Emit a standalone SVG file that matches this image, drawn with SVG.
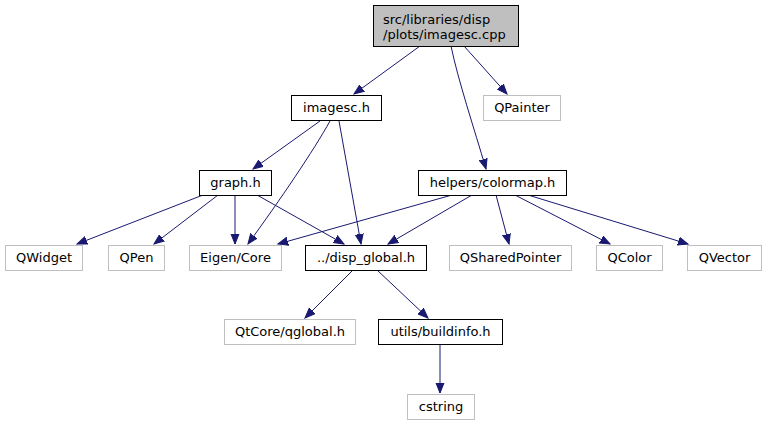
<svg xmlns="http://www.w3.org/2000/svg" width="767" height="425" viewBox="0 0 767 425">
<style>
  .n rect { fill: #ffffff; stroke: #000000; stroke-width: 1; }
  .g rect { fill: #ffffff; stroke: #bfbfbf; stroke-width: 1; }
  .root rect { fill: #bfbfbf; stroke: #000000; stroke-width: 1; }
  text { font-family: "DejaVu Sans", "Liberation Sans", sans-serif; font-size: 13px; fill: #000000; text-anchor: middle; }
  .e path { fill: none; stroke: #191970; stroke-width: 1; }
</style>
<defs>
  <marker id="ah" markerUnits="userSpaceOnUse" markerWidth="12" markerHeight="10" refX="10" refY="4.5" orient="auto">
    <path d="M0,0.5 L10,4.5 L0,8.5 z" fill="#191970" stroke="#191970" stroke-width="1"/>
  </marker>
</defs>
<rect width="767" height="425" fill="#ffffff"/>
<g class="e" id="edges">
  <path d="M420,46 L354,94" marker-end="url(#ah)"/>
  <path d="M464,46 L507,94" marker-end="url(#ah)"/>
  <path d="M451,46 C458,80 474,128 486,169" marker-end="url(#ah)"/>
  <path d="M320,121 L253,169" marker-end="url(#ah)"/>
  <path d="M330,121 C314,150 280,200 248,244" marker-end="url(#ah)"/>
  <path d="M339,121 L361,244" marker-end="url(#ah)"/>
  <path d="M203,195 L77,244" marker-end="url(#ah)"/>
  <path d="M218,195 L154,244" marker-end="url(#ah)"/>
  <path d="M235,195 L235,244" marker-end="url(#ah)"/>
  <path d="M257,195 L344,244" marker-end="url(#ah)"/>
  <path d="M452,195 L278,244" marker-end="url(#ah)"/>
  <path d="M472,195 L388,244" marker-end="url(#ah)"/>
  <path d="M496,195 L509,244" marker-end="url(#ah)"/>
  <path d="M515,195 L610,244" marker-end="url(#ah)"/>
  <path d="M528,195 L688,244" marker-end="url(#ah)"/>
  <path d="M353,270 L305,318" marker-end="url(#ah)"/>
  <path d="M377,270 L428,318" marker-end="url(#ah)"/>
  <path d="M440,345 L440,393" marker-end="url(#ah)"/>
</g>
<g id="node-root" class="root">
  <rect x="373.5" y="5.5" width="145" height="41"/>
  <text x="383" y="24" style="text-anchor:start">src/libraries/disp</text>
  <text x="383" y="39" style="text-anchor:start">/plots/imagesc.cpp</text>
</g>
<g id="node-imagesc" class="n">
  <rect x="291.5" y="95.5" width="90" height="25"/>
  <text x="336.5" y="112">imagesc.h</text>
</g>
<g id="node-qpainter" class="g">
  <rect x="483.5" y="95.5" width="77" height="25"/>
  <text x="522" y="112">QPainter</text>
</g>
<g id="node-graph" class="n">
  <rect x="199.5" y="170.5" width="72" height="25"/>
  <text x="235.5" y="187">graph.h</text>
</g>
<g id="node-colormap" class="n">
  <rect x="418.5" y="170.5" width="148" height="25"/>
  <text x="492.5" y="187">helpers/colormap.h</text>
</g>
<g id="node-qwidget" class="g">
  <rect x="5.5" y="245.5" width="77" height="25"/>
  <text x="44" y="262">QWidget</text>
</g>
<g id="node-qpen" class="g">
  <rect x="108.5" y="245.5" width="56" height="25"/>
  <text x="136.5" y="262">QPen</text>
</g>
<g id="node-eigen" class="g">
  <rect x="189.5" y="245.5" width="92" height="25"/>
  <text x="235.5" y="262">Eigen/Core</text>
</g>
<g id="node-dispglobal" class="n">
  <rect x="305.5" y="245.5" width="121" height="25"/>
  <text x="366" y="262">../disp_global.h</text>
</g>
<g id="node-qsharedpointer" class="g">
  <rect x="449.5" y="245.5" width="122" height="25"/>
  <text x="510.5" y="262">QSharedPointer</text>
</g>
<g id="node-qcolor" class="g">
  <rect x="596.5" y="245.5" width="66" height="25"/>
  <text x="629.5" y="262">QColor</text>
</g>
<g id="node-qvector" class="g">
  <rect x="687.5" y="245.5" width="74" height="25"/>
  <text x="724.5" y="262">QVector</text>
</g>
<g id="node-qglobal" class="g">
  <rect x="224.5" y="319.5" width="131" height="25"/>
  <text x="290" y="336">QtCore/qglobal.h</text>
</g>
<g id="node-buildinfo" class="n">
  <rect x="378.5" y="319.5" width="124" height="25"/>
  <text x="440.5" y="336">utils/buildinfo.h</text>
</g>
<g id="node-cstring" class="g">
  <rect x="407.5" y="394.5" width="67" height="25"/>
  <text x="441" y="411">cstring</text>
</g>
</svg>
